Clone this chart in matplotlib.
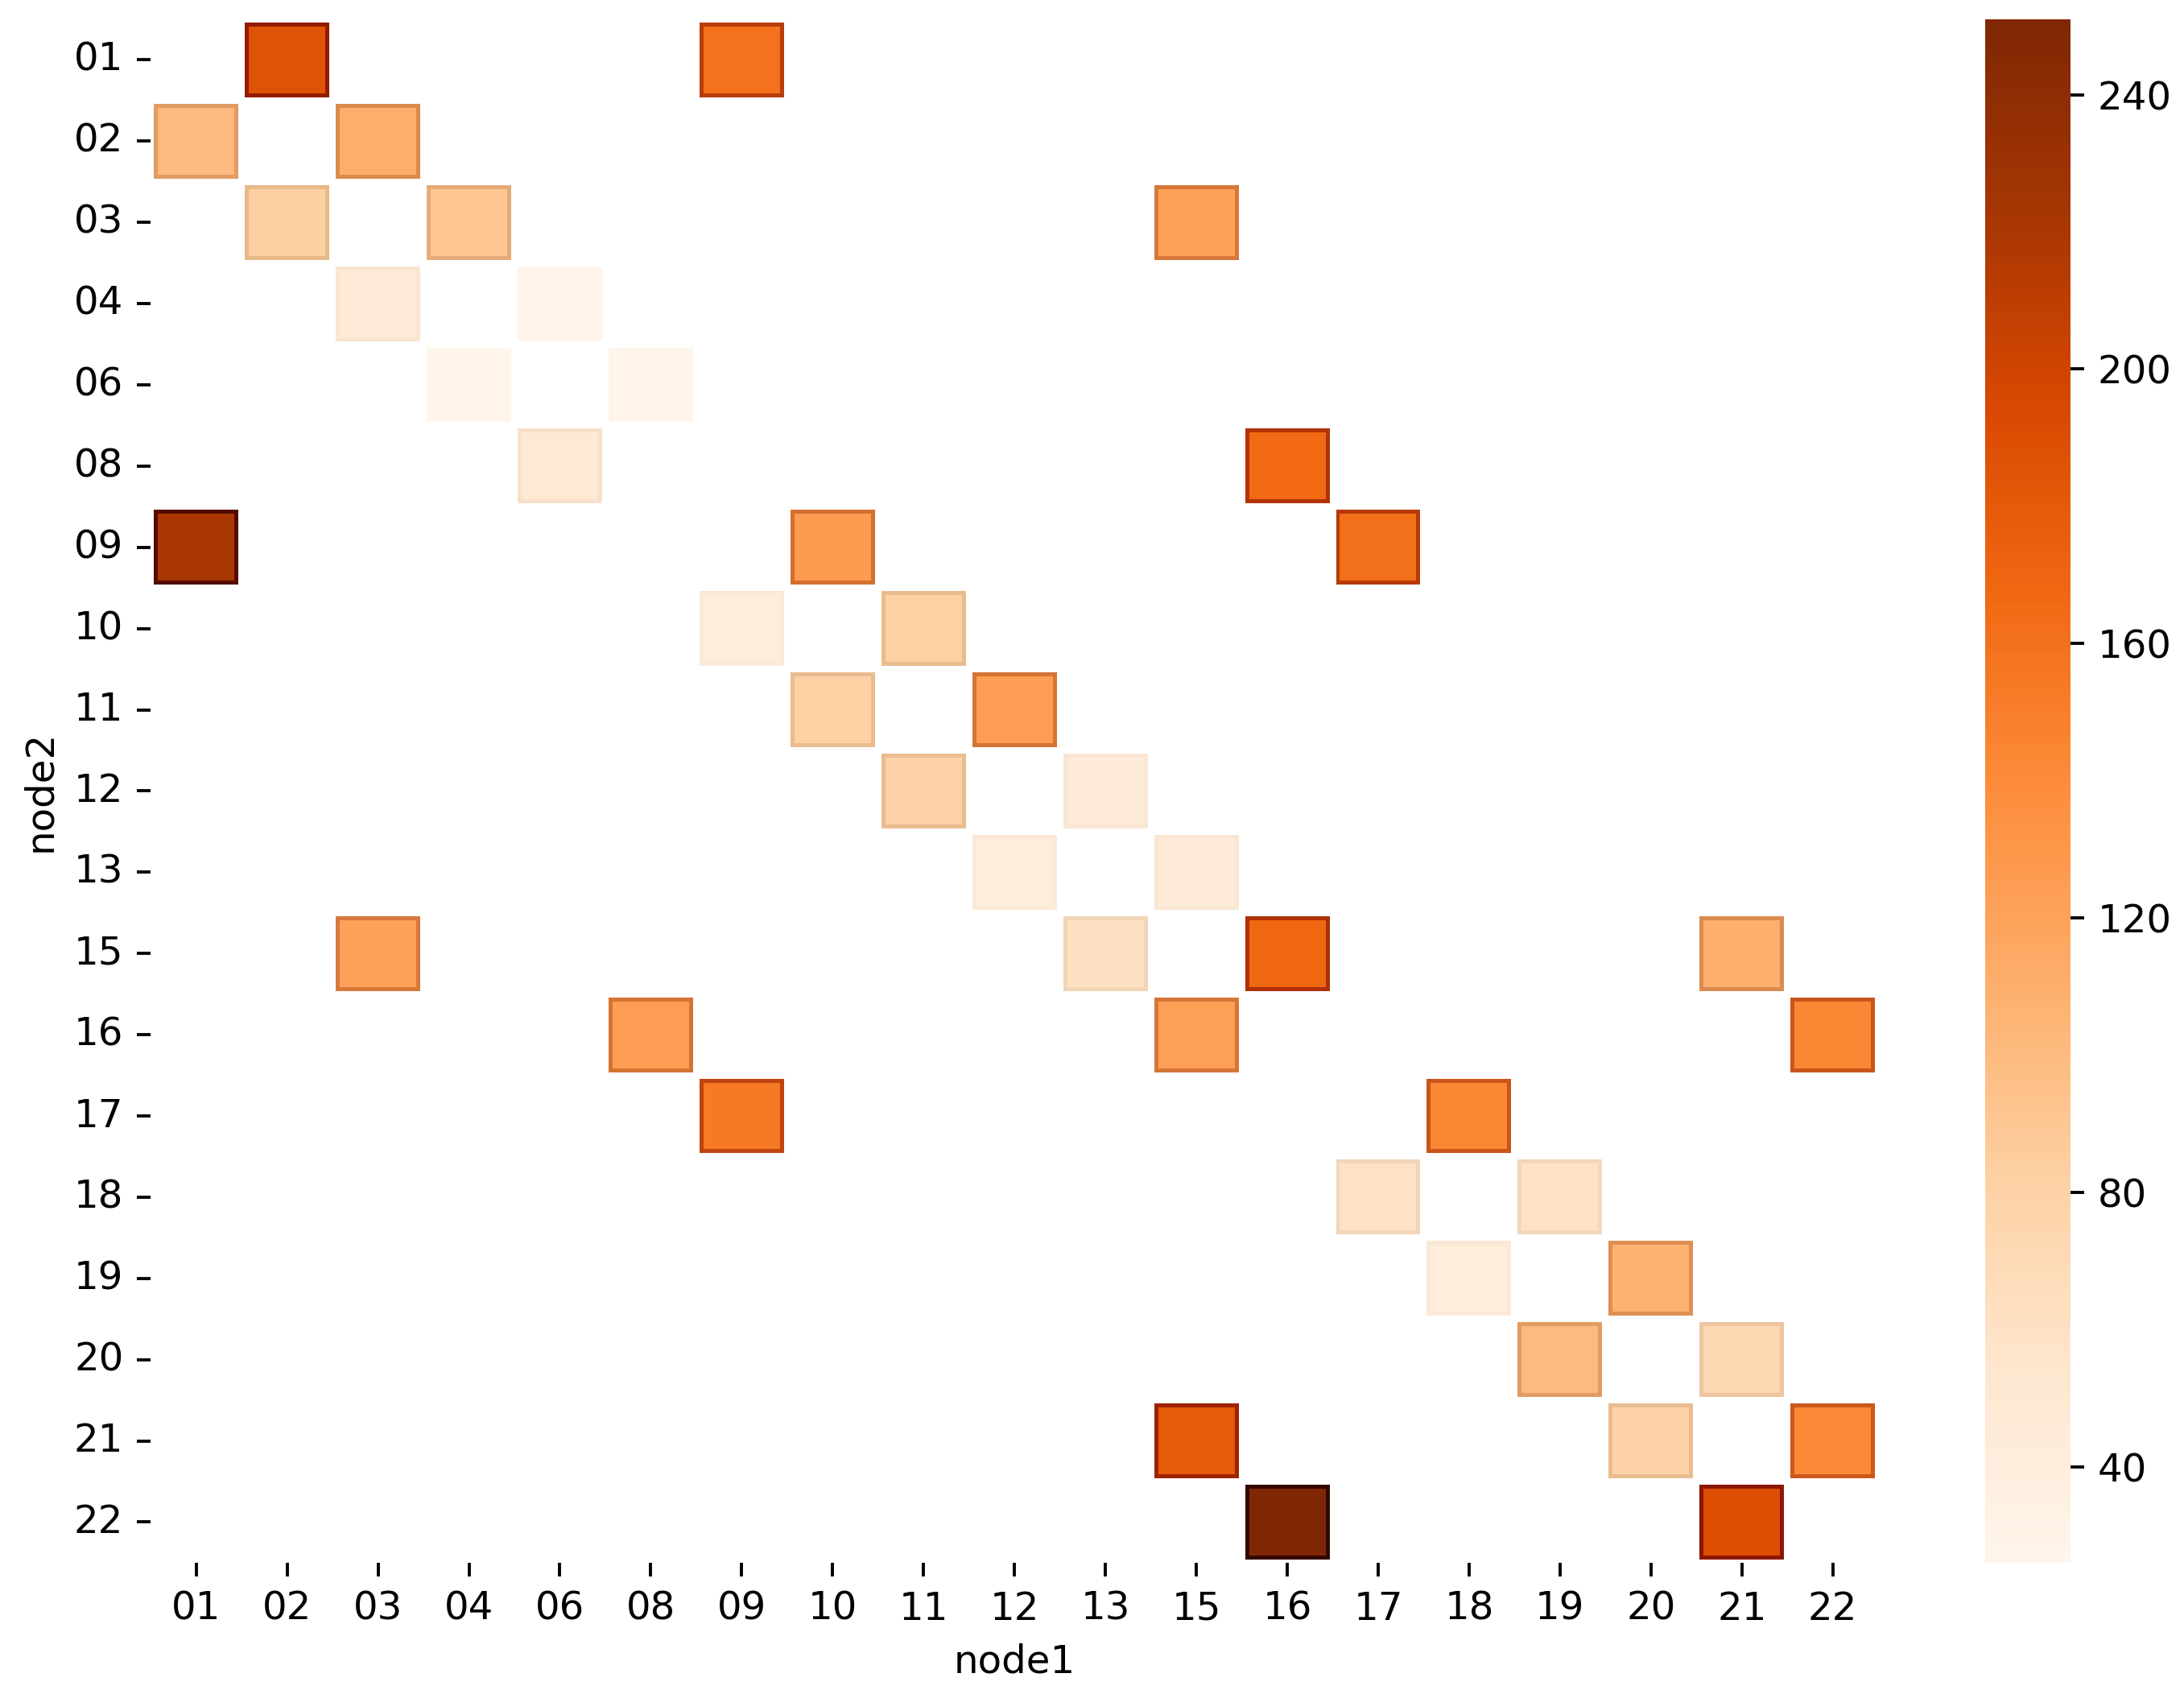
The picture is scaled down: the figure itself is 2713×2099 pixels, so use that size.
import numpy as np
import pandas as pd
import seaborn as sns
import matplotlib
matplotlib.use('Agg')
import matplotlib.pyplot as plt
from matplotlib import colors as mcolors

# node labels (both axes)
nodes = ['01', '02', '03', '04', '06', '08', '09', '10', '11', '12',
         '13', '15', '16', '17', '18', '19', '20', '21', '22']

# edges: row (node2), column (node1), weight
node2 = ['01', '01',
         '02', '02',
         '03', '03', '03',
         '04', '04',
         '06', '06',
         '08', '08',
         '09', '09', '09',
         '10', '10',
         '11', '11',
         '12', '12',
         '13', '13',
         '15', '15', '15', '15',
         '16', '16', '16',
         '17', '17',
         '18', '18',
         '19', '19',
         '20', '20',
         '21', '21', '21',
         '22', '22']
node1 = ['02', '09',
         '01', '03',
         '02', '04', '15',
         '03', '06',
         '04', '08',
         '06', '16',
         '01', '10', '17',
         '09', '11',
         '10', '12',
         '11', '13',
         '12', '15',
         '03', '13', '16', '21',
         '08', '15', '22',
         '09', '18',
         '17', '19',
         '18', '20',
         '19', '21',
         '15', '20', '22',
         '16', '21']
weight = [186, 159,
          100, 111,
          83, 91, 121,
          45, 28,
          26, 27,
          49, 166,
          221, 127, 161,
          41, 81,
          81, 124,
          80, 44,
          41, 44,
          121, 62, 168, 110,
          125, 123, 143,
          154, 143,
          60, 59,
          42, 107,
          100, 73,
          179, 80, 142,
          251, 190]

df = pd.DataFrame({'node1': node1, 'node2': node2, 'weight': weight})
mat = df.pivot(index='node2', columns='node1', values='weight').reindex(index=nodes, columns=nodes)
mat.index.name = 'node2'
mat.columns.name = 'node1'

vmin, vmax = mat.min().min(), mat.max().max()
norm = mcolors.Normalize(vmin=vmin, vmax=vmax)

# darker variant of Oranges for the cell borders (faint for light cells)
base = plt.get_cmap('Oranges')
dark_cols = []
for f in np.linspace(0, 1, 256):
    face = np.array(base(f)[:3])
    dark = face ** 1.8 * 0.7
    t = min(1.0, 1.4 * f ** 1.2)
    dark_cols.append(face + (dark - face) * t)
dark_cmap = mcolors.ListedColormap(dark_cols)

dpi = 347
fig = plt.figure(figsize=(2713 / dpi, 2099 / dpi), dpi=dpi)
ax = fig.add_axes([0.069, 0.0753, 0.791, 0.9133])
cax = fig.add_axes([0.909, 0.0753, 0.039, 0.9133])

# outer (dark) squares with thin white gaps
sns.heatmap(mat, cmap=dark_cmap, vmin=vmin, vmax=vmax, ax=ax, cbar=False,
            linewidths=1.3, linecolor='white')

# inner squares, inset a little inside every cell
n = len(nodes)
dx, dy = 9 / 113, 9 / 101
xb = np.ravel([[i + dx, i + 1 - dx] for i in range(n)])
yb = np.ravel([[i + dy, i + 1 - dy] for i in range(n)])
z = np.full((2 * n - 1, 2 * n - 1), np.nan)
z[::2, ::2] = mat.values
inner = ax.pcolormesh(xb, yb, np.ma.masked_invalid(z), cmap='Oranges', norm=norm,
                      edgecolors='none', linewidth=0)

cbar = fig.colorbar(inner, cax=cax, ticks=[40, 80, 120, 160, 200, 240])
cbar.outline.set_visible(False)

ax.tick_params(axis='y', rotation=0)
ax.tick_params(axis='x', rotation=0)

plt.savefig('out.png', dpi=dpi)
